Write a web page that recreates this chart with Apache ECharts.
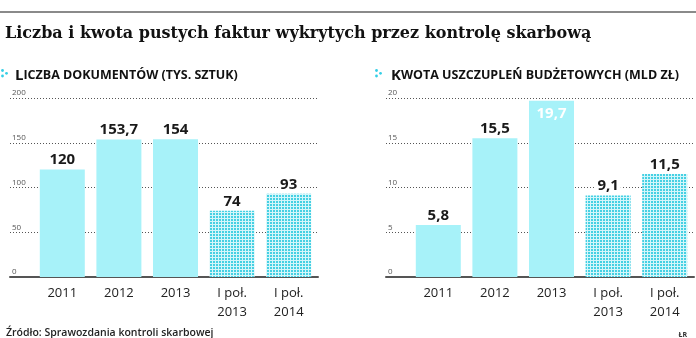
<!DOCTYPE html>
<html>
<head>
<meta charset="utf-8">
<script src="https://cdn.jsdelivr.net/npm/echarts@6/dist/echarts.min.js"></script>
<style>
  html, body { margin: 0; padding: 0; background: #fff; }
  #chart { width: 696px; height: 338px; }
</style>
</head>
<body>
<div id="chart"></div>
<script>
// Periods shown on both panels
const categories = ['2011', '2012', '2013', 'I poł.\n2013', 'I poł.\n2014'];
// Half-year periods are drawn with a dotted fill
const halfYear = [false, false, false, true, true];

// Number of empty invoices (thousand documents)
const documents = [120, 153.7, 154, 74, 93];
const documentTicks = [0, 50, 100, 150, 200];

// Budget shortfall (bn PLN)
const amounts = [5.8, 15.5, 19.7, 9.1, 11.5];
const amountTicks = [0, 5, 10, 15, 20];

const SOLID = '#a7f2f9';
const TEXT = '#1a1a1a';
const SANS = 'Open Sans';

// Small cyan dot grid used for the half-year bars
function dotPattern() {
  const c = document.createElement('canvas');
  c.width = 3; c.height = 3;
  const g = c.getContext('2d');
  g.fillStyle = '#d4f6fa';
  g.fillRect(0, 0, 3, 3);
  g.fillStyle = '#45d0e3';
  g.fillRect(0, 0, 2, 2);
  return { image: c, repeat: 'repeat' };
}
const DOTS = dotPattern();

const fmt = v => String(v).replace('.', ',');

function barData(values, max, dotted) {
  return values.map((v, i) => {
    const item = { value: v, itemStyle: { color: dotted[i] ? DOTS : SOLID } };
    if (v / max > 0.95) {
      item.label = { position: 'insideTop', distance: 6, color: '#fff', backgroundColor: 'transparent' };
    }
    return item;
  });
}

function panel(gridBg, gridBars, ticks) {
  const min = ticks[0], max = ticks[ticks.length - 1], interval = ticks[1] - ticks[0];
  const xAxes = [
    { gridIndex: gridBg, type: 'category', data: [''], axisTick: { show: false }, axisLabel: { show: false },
      axisLine: { show: true, lineStyle: { color: '#555', width: 2 } } },
    { gridIndex: gridBars, type: 'category', data: categories, axisTick: { show: false }, axisLine: { show: false },
      axisLabel: { fontSize: 13, lineHeight: 19, color: '#222', margin: 7, fontFamily: SANS, interval: 0 } }
  ];
  const yAxes = [
    { gridIndex: gridBg, type: 'value', min, max, interval,
      axisLine: { show: false }, axisTick: { show: false },
      axisLabel: { inside: true, margin: 2, verticalAlign: 'bottom', fontSize: 8, color: '#555', fontFamily: SANS, padding: [0, 0, 1, 0] },
      splitLine: { show: true, lineStyle: { color: '#555', width: 1, type: [1, 2] } } },
    { gridIndex: gridBars, type: 'value', min, max, interval, show: false, splitLine: { show: false } }
  ];
  return { xAxes, yAxes };
}

const left = panel(0, 1, documentTicks);
const right = panel(2, 3, amountTicks);

const valueLabel = {
  show: true, position: 'top', distance: 2,
  fontSize: 15, fontWeight: 'bold', color: TEXT, fontFamily: SANS,
  backgroundColor: '#fff', padding: [0, 2],
  formatter: p => fmt(p.value)
};

const headRich = {
  a: { fontSize: 15, fontWeight: 'bold', fontFamily: SANS, color: '#111' },
  b: { fontSize: 12.5, fontWeight: 'bold', fontFamily: SANS, color: '#111' }
};

const chart = echarts.init(document.getElementById('chart'), null, { renderer: 'canvas' });
chart.setOption({
  animation: false,
  backgroundColor: '#fff',
  title: [
    { text: 'Liczba i kwota pustych faktur wykrytych przez kontrolę skarbową', left: 0, top: 21,
      textStyle: { fontFamily: 'DejaVu Serif', fontWeight: 'bold', fontSize: 16, color: '#111' } },
    { text: '{a|L}{b|ICZBA DOKUMENTÓW (TYS. SZTUK)}', left: 10, top: 63, textStyle: { rich: headRich } },
    { text: '{a|K}{b|WOTA USZCZUPLEŃ BUDŻETOWYCH (MLD ZŁ)}', left: 386, top: 63, textStyle: { rich: headRich } },
    { text: 'Źródło: Sprawozdania kontroli skarbowej', left: 1, top: 323,
      textStyle: { fontFamily: SANS, fontWeight: 600, fontSize: 10.5, color: '#222' } },
    { text: 'ŁR', right: 4, top: 326,
      textStyle: { fontFamily: SANS, fontWeight: 'bold', fontSize: 7, color: '#333' } }
  ],
  graphic: [
    { type: 'rect', left: 0, top: 11, shape: { width: 696, height: 2 }, style: { fill: '#8a8a8a' } },
    { type: 'circle', shape: { cx: 2.5, cy: 70.5, r: 1.4 }, style: { fill: '#35cfe6' } },
    { type: 'circle', shape: { cx: 2.5, cy: 76, r: 1.4 }, style: { fill: '#35cfe6' } },
    { type: 'circle', shape: { cx: 6.5, cy: 73.3, r: 1.4 }, style: { fill: '#35cfe6' } },
    { type: 'circle', shape: { cx: 376.5, cy: 70.5, r: 1.4 }, style: { fill: '#35cfe6' } },
    { type: 'circle', shape: { cx: 376.5, cy: 76, r: 1.4 }, style: { fill: '#35cfe6' } },
    { type: 'circle', shape: { cx: 380.5, cy: 73.3, r: 1.4 }, style: { fill: '#35cfe6' } }
  ],
  grid: [
    { left: 10, top: 98, width: 308, height: 179, outerBoundsMode: 'none' },
    { left: 34, top: 98, width: 283, height: 179, outerBoundsMode: 'none' },
    { left: 386, top: 98, width: 308, height: 179, outerBoundsMode: 'none' },
    { left: 410, top: 98, width: 283, height: 179, outerBoundsMode: 'none' }
  ],
  xAxis: [...left.xAxes, ...right.xAxes],
  yAxis: [...left.yAxes, ...right.yAxes],
  series: [
    { type: 'bar', xAxisIndex: 1, yAxisIndex: 1, barWidth: 45, z: 3,
      data: barData(documents, documentTicks[documentTicks.length - 1], halfYear), label: valueLabel },
    { type: 'bar', xAxisIndex: 3, yAxisIndex: 3, barWidth: 45, z: 3,
      data: barData(amounts, amountTicks[amountTicks.length - 1], halfYear), label: valueLabel }
  ]
});
</script>
</body>
</html>
